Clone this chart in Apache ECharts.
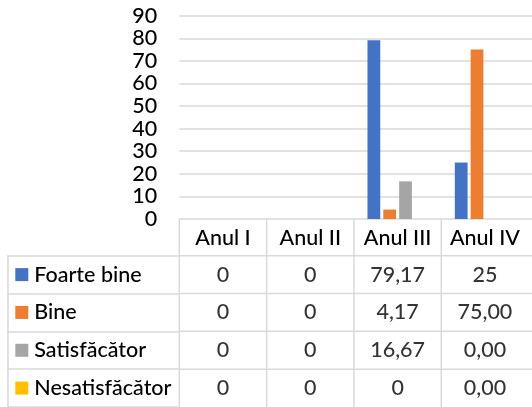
<!DOCTYPE html>
<html>
<head>
<meta charset="utf-8">
<script src="https://cdn.jsdelivr.net/npm/echarts@6/dist/echarts.min.js"></script>
<style>
html,body{margin:0;padding:0;background:#fff;}
#c{width:532px;height:407px;}
</style>
</head>
<body>
<div id="c"></div>
<script>
// ---- data ----
var categories = ['Anul I', 'Anul II', 'Anul III', 'Anul IV'];
var seriesNames = ['Foarte bine', 'Bine', 'Satisfăcător', 'Nesatisfăcător'];
var foarteBine = [0, 0, 79.17, 25];
var bine = [0, 0, 4.17, 75.00];
var satisfacator = [0, 0, 16.67, 0.00];
var nesatisfacator = [0, 0, 0, 0.00];
// table texts as displayed in the data table
var foarteBineText = ['0', '0', '79,17', '25'];
var bineText = ['0', '0', '4,17', '75,00'];
var satisfacatorText = ['0', '0', '16,67', '0,00'];
var nesatisfacatorText = ['0', '0', '0', '0,00'];
var yTicks = { min: 0, max: 90, interval: 10 };

var colors = ['#4472C4', '#ED7D31', '#A5A5A5', '#FFC000'];
var values = [foarteBine, bine, satisfacator, nesatisfacator];
var texts = [foarteBineText, bineText, satisfacatorText, nesatisfacatorText];

var FONT = 'Lato';
var FS = 21.5;
var FW = 500;
var TXT = '#000';
var LINE = '#d9d9d9';
var LW = 1.5;

var chart = echarts.init(document.getElementById('c'), null, { renderer: 'canvas' });

var plotLeft = 179.3, plotWidth = 349.3;
var plotTop = 15.7, plotHeight = 203.3;
var tableTop = 255.7, rowH = 38.5;
var headerH = tableTop - (plotTop + plotHeight);

var rich = { t: { fontFamily: FONT, fontSize: FS, fontWeight: FW, color: TXT, padding: [0, 0, 0, 6] } };
colors.forEach(function (c, i) {
  rich['sq' + i] = { width: 13, height: 13, backgroundColor: c };
});

var tableData = [];
texts.forEach(function (row, r) {
  row.forEach(function (t, ci) {
    tableData.push([ci, r, t]);
  });
});

var barSeries = values.map(function (v, i) {
  return {
    name: seriesNames[i],
    type: 'bar',
    xAxisIndex: 0, yAxisIndex: 0,
    data: v,
    itemStyle: { color: colors[i] },
    barGap: '24%',
    barCategoryGap: '31%',
    z: 3
  };
});

var lineStyle = { stroke: LINE, lineWidth: LW };

// vertical separators in the header row (below category axis)
var headerSep = {
  type: 'custom', xAxisIndex: 0, yAxisIndex: 0, silent: true, z: 1,
  data: categories.map(function (c, i) { return [i, 0]; }),
  renderItem: function (params, api) {
    var p = api.coord([api.value(0), 0]);
    var bw = api.size([1, 0])[0];
    var x = p[0] - bw / 2;
    return { type: 'line', shape: { x1: x, y1: p[1], x2: x, y2: p[1] + headerH }, style: lineStyle };
  }
};

// cell borders of the value part of the data table
var cellBorders = {
  type: 'custom', xAxisIndex: 2, yAxisIndex: 2, silent: true, z: 1,
  data: tableData.map(function (d) { return [d[0], d[1]]; }),
  renderItem: function (params, api) {
    var ci = api.value(0), r = api.value(1);
    var p = api.coord([ci, r]);
    var s = api.size([1, 1]);
    var bw = s[0], bh = s[1];
    var left = p[0] - bw / 2, top = p[1] - bh / 2;
    var right = p[0] + bw / 2;
    if (ci === categories.length - 1) right += bw; // table continues past the visible edge
    return {
      type: 'group',
      children: [
        { type: 'line', shape: { x1: left, y1: top, x2: left, y2: top + bh }, style: lineStyle },
        { type: 'line', shape: { x1: left, y1: top, x2: right, y2: top }, style: lineStyle }
      ]
    };
  }
};

var option = {
  animation: false,
  textStyle: { fontFamily: FONT },
  grid: [
    { left: plotLeft, top: plotTop, width: plotWidth, height: plotHeight },
    { left: 7.3, top: tableTop, width: plotLeft - 7.3, height: rowH * 4 },
    { left: plotLeft, top: tableTop, width: plotWidth, height: rowH * 4 },
    { left: plotLeft, top: plotTop, width: plotWidth + 40, height: plotHeight }
  ],
  xAxis: [
    {
      gridIndex: 0, type: 'category', data: categories,
      axisLine: { show: false },
      axisTick: { show: false },
      axisLabel: { fontFamily: FONT, fontSize: FS, fontWeight: FW, color: TXT, margin: 8, interval: 0 }
    },
    {
      gridIndex: 1, type: 'category', data: [''],
      axisLine: { show: false }, axisTick: { show: false }, axisLabel: { show: false },
      splitLine: { show: false }
    },
    {
      gridIndex: 2, type: 'category', data: categories, position: 'top',
      axisLine: { show: false }, axisTick: { show: false }, axisLabel: { show: false },
      splitLine: { show: false }
    },
    {
      gridIndex: 3, type: 'value', min: 0, max: 1, show: false
    }
  ],
  yAxis: [
    {
      gridIndex: 0, type: 'value', min: yTicks.min, max: yTicks.max, interval: yTicks.interval,
      axisLine: { show: false }, axisTick: { show: false },
      axisLabel: { fontFamily: FONT, fontSize: FS, fontWeight: FW, color: TXT, margin: 22 },
      splitLine: { show: false }
    },
    {
      gridIndex: 1, type: 'category', data: seriesNames, inverse: true,
      axisLine: { show: true, lineStyle: { color: LINE, width: LW } },
      axisTick: { show: false },
      axisLabel: {
        inside: true, margin: 8, interval: 0,
        formatter: function (v, i) { return '{sq' + i + '|}{t|' + v + '}'; },
        rich: rich
      },
      splitLine: { show: true, interval: 0, lineStyle: { color: LINE, width: LW } }
    },
    {
      gridIndex: 2, type: 'category', data: seriesNames, inverse: true,
      axisLine: { show: false }, axisTick: { show: false }, axisLabel: { show: false },
      splitLine: { show: false }
    },
    {
      gridIndex: 3, type: 'value', min: yTicks.min, max: yTicks.max, interval: yTicks.interval,
      axisLine: { show: false }, axisTick: { show: false }, axisLabel: { show: false },
      splitLine: { show: true, lineStyle: { color: LINE, width: LW } }
    }
  ],
  series: barSeries.concat([
    headerSep,
    cellBorders,
    {
      type: 'scatter', xAxisIndex: 2, yAxisIndex: 2,
      data: tableData, symbolSize: 0, z: 3,
      label: {
        show: true, position: 'inside',
        formatter: function (p) { return p.data[2]; },
        fontFamily: FONT, fontSize: FS, fontWeight: FW, color: TXT
      },
      silent: true
    }
  ])
};
chart.setOption(option);
</script>
</body>
</html>
